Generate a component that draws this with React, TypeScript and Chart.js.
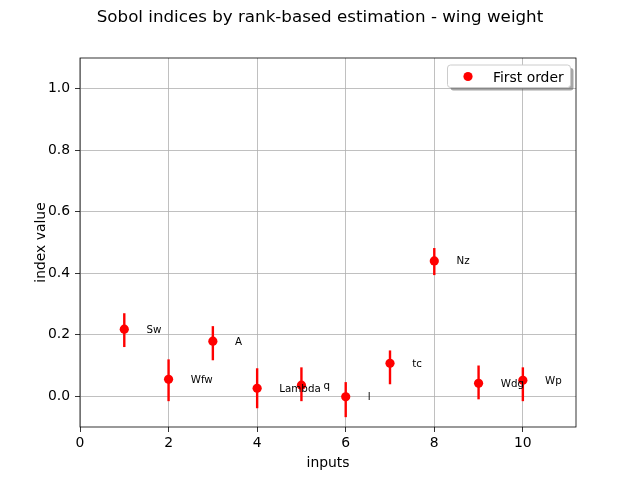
import React, { useEffect, useRef } from "react";
import { Chart, registerables } from "chart.js";

Chart.register(...registerables);

const inputNames = ["Sw", "Wfw", "A", "Lambda", "q", "l", "tc", "Nz", "Wdg", "Wp"];
const xPositions = [1, 2, 3, 4, 5, 6, 7, 8, 9, 10];
const firstOrder = [0.218, 0.055, 0.179, 0.026, 0.036, -0.002, 0.107, 0.44, 0.042, 0.052];
const lowerBound = [0.16, -0.016, 0.117, -0.039, -0.016, -0.068, 0.039, 0.394, -0.01, -0.016];
const upperBound = [0.27, 0.12, 0.228, 0.091, 0.094, 0.046, 0.149, 0.482, 0.1, 0.094];
const yTickValues = [0, 0.2, 0.4, 0.6, 0.8, 1.0];
const xTickValues = [0, 2, 4, 6, 8, 10];
const titleText = "Sobol indices by rank-based estimation - wing weight";
const legendText = "First order";

const FONT = "'DejaVu Sans', sans-serif";

export default function App() {
  const ref = useRef<HTMLCanvasElement | null>(null);

  useEffect(() => {
    document.body.style.margin = "0";
    const canvas = ref.current;
    if (!canvas) return;

    const decorPlugin = {
      id: "decor",
      beforeDatasetsDraw(chart: any) {
        const ctx = chart.ctx;
        const xs = chart.scales.x;
        const ys = chart.scales.y;
        ctx.save();
        ctx.strokeStyle = "#ff0000";
        ctx.lineWidth = 2.4;
        for (let i = 0; i < xPositions.length; i++) {
          const px = xs.getPixelForValue(xPositions[i]);
          ctx.beginPath();
          ctx.moveTo(px, ys.getPixelForValue(lowerBound[i]));
          ctx.lineTo(px, ys.getPixelForValue(upperBound[i]));
          ctx.stroke();
        }
        ctx.restore();
      },
      afterDraw(chart: any) {
        const ctx = chart.ctx;
        const xs = chart.scales.x;
        const ys = chart.scales.y;
        const a = chart.chartArea;
        ctx.save();
        // spines
        ctx.strokeStyle = "#000";
        ctx.lineWidth = 0.8;
        ctx.strokeRect(a.left, a.top, a.right - a.left, a.bottom - a.top);
        // annotations
        ctx.fillStyle = "#000";
        ctx.font = `10.3px ${FONT}`;
        ctx.textAlign = "left";
        ctx.textBaseline = "alphabetic";
        for (let i = 0; i < xPositions.length; i++) {
          const px = xs.getPixelForValue(xPositions[i] + 0.5);
          const py = ys.getPixelForValue(firstOrder[i]);
          ctx.fillText(inputNames[i], px, py + 3.5);
        }
        // title
        ctx.font = `16.7px ${FONT}`;
        ctx.textAlign = "center";
        ctx.fillText(titleText, 320, 22.3);
        // axis labels
        ctx.font = `13.9px ${FONT}`;
        ctx.fillText("inputs", (a.left + a.right) / 2, 467);
        ctx.save();
        ctx.translate(45, (a.top + a.bottom) / 2);
        ctx.rotate(-Math.PI / 2);
        ctx.fillText("index value", 0, 0);
        ctx.restore();
        // legend
        const lx = 447.5, ly = 65, lw = 123, lh = 22.5, r = 3;
        const rr = (x: number, y: number, w: number, h: number) => {
          ctx.beginPath();
          ctx.moveTo(x + r, y);
          ctx.lineTo(x + w - r, y);
          ctx.quadraticCurveTo(x + w, y, x + w, y + r);
          ctx.lineTo(x + w, y + h - r);
          ctx.quadraticCurveTo(x + w, y + h, x + w - r, y + h);
          ctx.lineTo(x + r, y + h);
          ctx.quadraticCurveTo(x, y + h, x, y + h - r);
          ctx.lineTo(x, y + r);
          ctx.quadraticCurveTo(x, y, x + r, y);
          ctx.closePath();
        };
        rr(lx + 3, ly + 3, lw, lh);
        ctx.fillStyle = "rgba(77,77,77,0.5)";
        ctx.fill();
        rr(lx, ly, lw, lh);
        ctx.fillStyle = "#ffffff";
        ctx.fill();
        ctx.strokeStyle = "#cccccc";
        ctx.lineWidth = 1;
        ctx.stroke();
        ctx.beginPath();
        ctx.arc(468, 76.5, 4.6, 0, Math.PI * 2);
        ctx.fillStyle = "#ff0000";
        ctx.fill();
        ctx.fillStyle = "#000";
        ctx.textAlign = "left";
        ctx.font = `13.9px ${FONT}`;
        ctx.fillText(legendText, 493, 81.5);
        ctx.restore();
      },
    };

    const chart = new Chart(canvas, {
      type: "scatter",
      data: {
        datasets: [
          {
            label: legendText,
            data: xPositions.map((x, i) => ({ x, y: firstOrder[i] })),
            backgroundColor: "#ff0000",
            borderColor: "#ff0000",
            borderWidth: 0,
            pointRadius: 4.6,
            pointHoverRadius: 4.6,
          },
        ],
      },
      options: {
        responsive: false,
        animation: false,
        devicePixelRatio: 1,
        layout: { padding: { left: 0, right: 64, top: 58, bottom: 0 } },
        plugins: {
          legend: { display: false },
          title: { display: false },
          tooltip: { enabled: false },
        },
        scales: {
          x: {
            type: "linear",
            min: 0,
            max: 11.2,
            afterFit(scale: any) {
              scale.height = 53;
            },
            afterBuildTicks(scale: any) {
              scale.ticks = xTickValues.map((v) => ({ value: v }));
            },
            ticks: {
              color: "#000",
              font: { family: FONT, size: 13.9 },
              padding: 3,
              maxRotation: 0,
              callback: (v: any) => String(v),
            },
            grid: {
              color: "#b0b0b0",
              lineWidth: 0.8,
              tickColor: "#000",
              tickLength: 5,
              tickWidth: 0.8,
            },
            border: { display: false },
          },
          y: {
            type: "linear",
            min: -0.1,
            max: 1.1,
            afterFit(scale: any) {
              scale.width = 80;
            },
            afterBuildTicks(scale: any) {
              scale.ticks = yTickValues.map((v) => ({ value: v }));
            },
            ticks: {
              color: "#000",
              font: { family: FONT, size: 13.9 },
              padding: 5,
              callback: (v: any) => Number(v).toFixed(1),
            },
            grid: {
              color: "#b0b0b0",
              lineWidth: 0.8,
              tickColor: "#000",
              tickLength: 5,
              tickWidth: 0.8,
            },
            border: { display: false },
          },
        },
      },
      plugins: [decorPlugin],
    } as any);

    return () => chart.destroy();
  }, []);

  return (
    <div style={{ position: "absolute", left: 0, top: 0, width: 640, height: 480, background: "#fff" }}>
      <canvas ref={ref} width={640} height={480} />
    </div>
  );
}
